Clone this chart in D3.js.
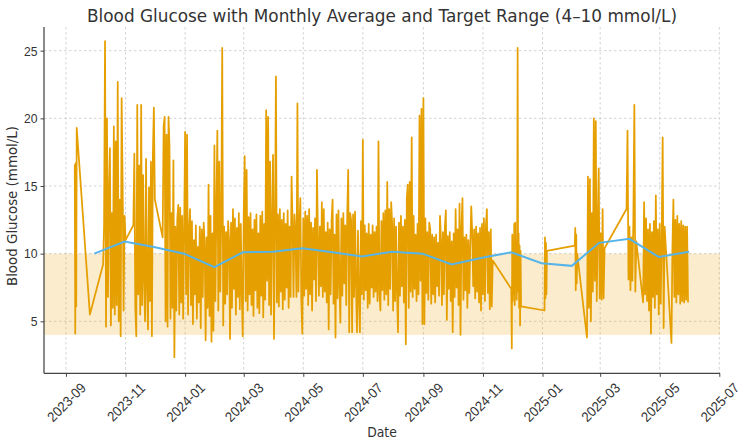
<!DOCTYPE html>
<html>
<head>
<meta charset="utf-8">
<script src="https://cdn.jsdelivr.net/npm/d3@7"></script>
<style>
  body { margin: 0; background: #fff; }
  svg { font-family: 'DejaVu Sans', sans-serif; }
</style>
</head>
<body>
<div id="chart"></div>
<script>
// tick labels
const monthTicks = ['2023-09', '2023-11', '2024-01', '2024-03', '2024-05', '2024-07',
  '2024-09', '2024-11', '2025-01', '2025-03', '2025-05', '2025-07'];
const glucoseTicks = [5, 10, 15, 20, 25];
const targetRange = [4, 10];

// readings, grouped in runs (start, spacing in days, values)
const runStarts = ['2023-09-10T00:00:00Z', '2023-09-25T12:00:00Z', '2023-10-09T00:00:00Z',
  '2023-11-09T00:00:00Z', '2023-12-09T00:00:00Z', '2024-11-30T00:00:00Z', '2025-01-03T00:00:00Z',
  '2025-02-03T00:00:00Z', '2025-02-15T12:00:00Z', '2025-03-28T00:00:00Z', '2025-04-14T00:00:00Z',
  '2025-05-13T00:00:00Z'];
const runSteps = [0.5, 1, 1, 1, 1, 0.5, 0.5, 0.5, 1, 1, 1, 1];

const sep2023 = [16.6, 4.1, 16.7, 6.1, 19.3];
const sep2023late = [5.5];
const oct2023 = [9.2, 12.0, 25.7, 4.6, 20.0, 6.8, 14.5, 17.8, 4.7, 13.0, 6.0, 19.4, 5.5, 18.3,
  6.2, 22.7, 5.0, 14.0, 3.9, 21.5, 15.3, 5.8, 12.8, 11.0];
const nov2023 = [12.1, 17.4, 6.0, 3.9, 21.0, 7.0, 16.5, 5.5, 21.0, 6.2, 15.8, 8.0, 5.0, 17.0,
  7.5, 4.4, 14.9, 6.5, 16.8, 3.9, 17.3, 20.8, 14.0];
const dec2023toNov2024 = [
  11.2, 19.4, 20.1, 5.0, 18.8, 4.6, 20.1, 18.0, 5.2, 13.0,
  6.0, 16.9, 2.35, 12.0, 5.8, 12.6, 13.6, 5.5, 13.4, 6.4,
  12.8, 5.2, 11.8, 19.0, 7.0, 18.8, 5.5, 11.5, 13.3, 6.2,
  12.4, 4.8, 11.0, 7.0, 12.1, 5.2, 10.5, 6.4, 12.0, 4.5,
  11.8, 6.8, 12.3, 10.8, 3.6, 11.2, 6.0, 15.1, 5.4, 12.8,
  3.5, 11.5, 4.3, 18.0, 6.5, 13.0, 19.1, 5.8, 16.8, 7.2,
  12.5, 25.2, 4.7, 12.0, 6.3, 11.6, 7.0, 12.4, 11.0, 3.7,
  12.3, 6.0, 13.3, 7.4, 12.6, 5.5, 11.9, 6.8, 13.0, 5.9,
  12.2, 7.1, 3.9, 12.8, 17.2, 6.5, 16.2, 5.8, 12.7, 7.0,
  13.0, 6.2, 11.8, 5.4, 12.5, 7.3, 12.9, 6.0, 11.5, 5.6,
  12.8, 6.9, 13.1, 5.3, 12.2, 6.6, 20.6, 8.0, 20.1, 6.2,
  16.8, 5.5, 12.4, 17.3, 3.7, 12.0, 23.1, 6.4, 12.9, 6.1,
  13.3, 7.2, 12.5, 5.9, 13.0, 6.6, 12.2, 7.5, 13.2, 6.0,
  12.0, 6.8, 15.7, 12.4, 6.8, 12.9, 11.5, 6.8, 21.1, 7.2,
  12.0, 14.1, 6.5, 4.1, 12.6, 6.9, 13.1, 7.4, 12.8, 6.2,
  13.3, 7.0, 12.3, 5.8, 11.9, 8.1, 12.6, 6.5, 16.2, 11.2,
  6.9, 12.0, 7.6, 13.8, 6.8, 13.3, 7.2, 11.6, 6.4, 12.3,
  4.4, 11.8, 7.0, 12.5, 14.0, 6.3, 11.4, 3.8, 12.9, 6.7,
  13.2, 7.5, 4.9, 12.6, 6.9, 13.0, 7.8, 12.1, 6.2, 12.8,
  16.2, 4.2, 13.0, 12.5, 4.2, 12.9, 6.8, 13.1, 7.6, 4.2,
  11.7, 6.5, 4.2, 12.4, 7.0, 18.4, 6.6, 12.1, 7.3, 11.5,
  6.0, 12.2, 6.3, 11.4, 7.5, 12.1, 6.8, 11.6, 7.2, 12.0,
  6.5, 18.3, 7.0, 5.8, 12.4, 7.3, 13.0, 6.6, 13.2, 7.0,
  15.3, 6.2, 13.3, 7.4, 13.8, 12.2, 5.8, 12.6, 6.5, 12.0,
  7.1, 4.2, 12.3, 6.9, 12.8, 7.6, 12.0, 6.4, 12.5, 3.3,
  14.1, 15.1, 6.0, 15.3, 7.2, 18.6, 6.8, 12.8, 7.4, 11.4,
  6.5, 12.2, 7.0, 20.2, 8.0, 20.7, 4.8, 21.5, 4.8, 12.6,
  7.1, 11.6, 6.6, 12.3, 11.8, 6.3, 11.4, 7.0, 11.2, 6.4,
  11.4, 7.6, 10.8, 6.9, 12.8, 11.0, 6.2, 11.6, 7.0, 12.0,
  13.2, 5.1, 11.3, 7.4, 11.6, 6.5, 10.9, 4.2, 11.5, 6.8,
  13.3, 7.5, 11.8, 6.2, 13.7, 4.0, 12.0, 14.1, 6.6, 11.2,
  7.3, 11.4, 6.0, 11.0, 7.1, 10.6, 13.5, 11.5, 7.6, 11.8,
  6.7, 12.0, 7.2, 11.5, 6.4, 11.9, 5.8, 12.2, 7.0, 12.6,
  6.5, 12.0, 13.3, 7.1, 11.6, 5.9, 11.8, 6.1, 9.5];
const dec2024 = [7.4, 3.0, 11.4, 6.5, 10.8, 7.0, 12.2, 6.2, 12.3, 7.5, 11.0, 6.6, 9.8, 25.2,
  7.2, 11.5, 6.0, 10.6, 4.7, 10.2, 6.1];
const jan2025 = [5.8, 11.2, 6.7, 10.8, 7.0, 10.2];
const feb2025 = [10.6, 11.9, 7.3, 11.4, 7.8, 10.0];
const feb2025late = [3.8, 15.7, 6.0, 15.5, 5.0, 13.0, 7.2, 20.0, 8.0, 19.8, 6.5, 12.0, 16.3,
  6.7, 11.5, 6.6, 13.3, 6.7, 10.4];
const mar2025 = [13.3, 19.1, 8.1, 12.0, 7.3, 11.2, 8.0, 12.5, 21.0, 7.2, 10.9];
const apr2025 = [6.4, 13.8, 7.0, 12.6, 6.5, 11.8, 5.8, 12.2, 4.1, 11.6, 6.8, 12.4, 6.0, 14.3,
  7.0, 11.8, 5.5, 12.2, 6.3, 11.0, 18.6, 4.5, 12.0];
const may2025 = [3.4, 10.5, 14.0, 6.8, 12.5, 6.4, 12.8, 7.0, 12.2, 6.3, 12.4, 6.5, 12.1, 6.4,
  12.0, 6.6, 12.0, 6.4];
const runValues = [sep2023, sep2023late, oct2023, nov2023, dec2023toNov2024, dec2024, jan2025,
  feb2025, feb2025late, mar2025, apr2025, may2025];

// monthly averages (month end)
const avgDates = ['2023-09-30', '2023-10-31', '2023-11-30', '2023-12-31', '2024-01-31',
  '2024-02-29', '2024-03-31', '2024-04-30', '2024-05-31', '2024-06-30', '2024-07-31',
  '2024-08-31', '2024-09-30', '2024-10-31', '2024-11-30', '2024-12-31', '2025-01-31',
  '2025-02-28', '2025-03-31', '2025-04-30', '2025-05-31'];
const avgValues = [10.0, 10.9, 10.5, 10.0, 9.0, 10.1, 10.15, 10.4, 10.1, 9.8, 10.15, 10.0,
  9.2, 9.7, 10.1, 9.3, 9.1, 10.8, 11.1, 9.75, 10.15];

const DAY = 86400000;
const readings = [];
runStarts.forEach((s, r) => {
  const t0 = d3.isoParse(s).getTime();
  runValues[r].forEach((v, j) => readings.push({ date: new Date(t0 + j * runSteps[r] * DAY), value: v }));
});
const averages = avgDates.map((d, i) => ({ date: d3.isoParse(d), value: avgValues[i] }));

// text in the picture is a little narrower than plain DejaVu
function squeeze(sel, k) {
  sel.each(function () {
    const len = this.getComputedTextLength();
    d3.select(this).attr('textLength', len * k).attr('lengthAdjust', 'spacingAndGlyphs');
  });
}

const width = 750, height = 447;
const plot = { left: 44, right: 720, top: 27, bottom: 373.3 };

const svg = d3.select('#chart').append('svg')
  .attr('width', width)
  .attr('height', height);

const x = d3.scaleUtc()
  .domain([d3.isoParse('2023-08-09T12:00:00Z'), d3.isoParse('2025-07-01T17:00:00Z')])
  .range([plot.left, plot.right]);

const y = d3.scaleLinear()
  .domain([1.16, 26.75])
  .range([plot.bottom, plot.top]);

const tickDates = monthTicks.map(m => d3.utcParse('%Y-%m')(m));

// grid
const grid = svg.append('g').attr('stroke', '#c8c8c8').attr('stroke-width', 0.8)
  .attr('stroke-dasharray', '2.5,2.5');
grid.selectAll('.gx').data(tickDates).enter().append('line')
  .attr('x1', d => x(d)).attr('x2', d => x(d))
  .attr('y1', plot.top).attr('y2', plot.bottom);
grid.selectAll('.gy').data(glucoseTicks).enter().append('line')
  .attr('x1', plot.left).attr('x2', plot.right)
  .attr('y1', d => y(d)).attr('y2', d => y(d));

// target band
svg.append('rect')
  .attr('x', plot.left)
  .attr('y', y(targetRange[1]))
  .attr('width', plot.right - plot.left)
  .attr('height', y(targetRange[0]) - y(targetRange[1]))
  .attr('fill', '#E69F00')
  .attr('fill-opacity', 0.2);

const line = d3.line().x(d => x(d.date)).y(d => y(d.value));

svg.append('path')
  .datum(readings)
  .attr('d', line)
  .attr('fill', 'none')
  .attr('stroke', '#E69F00')
  .attr('stroke-width', 1.75)
  .attr('stroke-linejoin', 'round');

svg.append('path')
  .datum(averages)
  .attr('d', line)
  .attr('fill', 'none')
  .attr('stroke', '#56B4E9')
  .attr('stroke-width', 2);

// axes
const xAxis = svg.append('g')
  .attr('transform', `translate(0,${plot.bottom})`)
  .call(d3.axisBottom(x).tickValues(tickDates).tickFormat(d3.utcFormat('%Y-%m')).tickSize(3.5));
xAxis.select('.domain').remove();
xAxis.selectAll('.tick line').attr('stroke', '#444');
xAxis.selectAll('.tick text')
  .attr('font-size', 14)
  .attr('fill', '#333')
  .attr('text-anchor', 'middle')
  .attr('y', 0).attr('dy', '0.35em')
  .attr('transform', 'translate(0,29) rotate(-45)')
  .call(squeeze, 0.93);

const yAxis = svg.append('g')
  .attr('transform', `translate(${plot.left},0)`)
  .call(d3.axisLeft(y).tickValues(glucoseTicks).tickSize(3.5).tickPadding(3));
yAxis.select('.domain').remove();
yAxis.selectAll('.tick line').attr('stroke', '#444');
yAxis.selectAll('.tick text')
  .attr('font-size', 13.5)
  .attr('fill', '#333')
  .call(squeeze, 0.9);

// spines
svg.append('line')
  .attr('x1', plot.left).attr('x2', plot.left)
  .attr('y1', plot.top).attr('y2', plot.bottom)
  .attr('stroke', '#444').attr('stroke-width', 1.25);
svg.append('line')
  .attr('x1', plot.left).attr('x2', plot.right)
  .attr('y1', plot.bottom).attr('y2', plot.bottom)
  .attr('stroke', '#444').attr('stroke-width', 1.25);

// titles
svg.append('text')
  .attr('x', (plot.left + plot.right) / 2)
  .attr('y', 21.5)
  .attr('text-anchor', 'middle')
  .attr('font-size', 18.5)
  .attr('fill', '#333')
  .attr('textLength', 590)
  .attr('lengthAdjust', 'spacingAndGlyphs')
  .text('Blood Glucose with Monthly Average and Target Range (4–10 mmol/L)');

svg.append('text')
  .attr('x', (plot.left + plot.right) / 2)
  .attr('y', 437)
  .attr('text-anchor', 'middle')
  .attr('font-size', 13.5)
  .attr('fill', '#333')
  .text('Date')
  .call(squeeze, 0.92);

svg.append('text')
  .attr('transform', 'translate(17,206) rotate(-90)')
  .attr('text-anchor', 'middle')
  .attr('font-size', 13.4)
  .attr('fill', '#333')
  .text('Blood Glucose (mmol/L)');
</script>
</body>
</html>
